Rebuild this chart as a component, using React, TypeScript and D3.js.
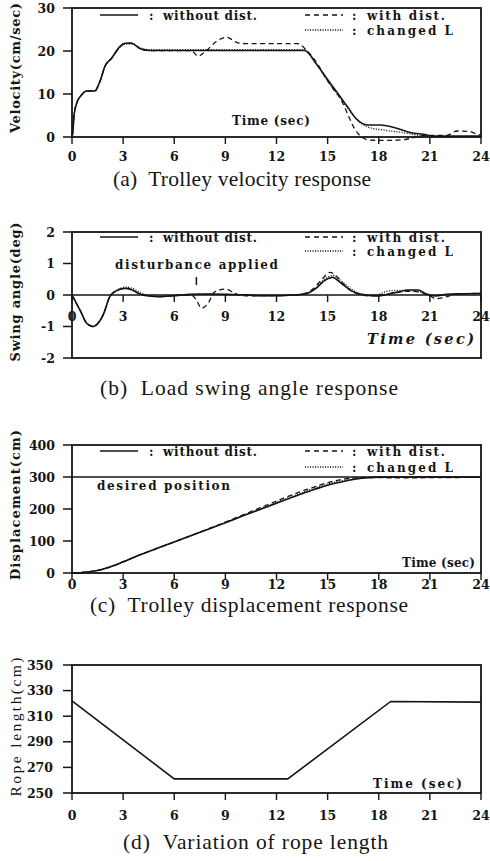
import React from "react";
import * as d3 from "d3";

// ---------- shared ----------
const timeTicks = [0, 3, 6, 9, 12, 15, 18, 21, 24];

// ---------- (a) trolley velocity (cm/sec) ----------
const velTicks = [0, 10, 20, 30];
const velTimeWithout = [0, 0.06, 0.12, 0.27, 0.57, 0.86, 1.35, 1.5, 1.64, 1.93, 2.32, 2.81, 3.1, 3.5, 3.98, 4.56, 6, 8, 10, 12, 13.64, 14.32, 14.9, 15.59, 16.17, 16.67, 17.35, 18.1, 18.9, 19.9, 20.8, 21.1, 24];
const velWithout = [0, 1.6, 5.1, 7.8, 9.8, 10.7, 10.7, 11.6, 12.9, 16.4, 18.3, 21, 21.8, 21.8, 20.6, 20.1, 20.1, 20.1, 20.1, 20.1, 20.1, 17.1, 13.9, 10.2, 7, 4.3, 2.8, 2.8, 2.2, 1.0, 0.5, 0.2, 0.2];
const velTimeWith = [0, 0.06, 0.12, 0.27, 0.57, 0.86, 1.35, 1.5, 1.64, 1.93, 2.32, 2.81, 3.1, 3.5, 3.98, 4.56, 6, 7.0, 7.4, 7.8, 8.47, 9.05, 9.74, 10.3, 12, 13.3, 13.7, 14.3, 14.8, 15.3, 15.8, 16.2, 16.57, 16.96, 17.45, 18.5, 19.5, 20.1, 20.7, 22, 22.6, 23.3, 23.8, 24];
const velWith = [0, 1.6, 5.1, 7.8, 9.8, 10.7, 10.7, 11.6, 12.9, 16.4, 18.3, 21, 21.8, 21.8, 20.6, 20.1, 20.1, 20.1, 18.8, 19.8, 22.2, 23.2, 21.9, 21.7, 21.7, 21.7, 20.4, 17.6, 14.4, 11.3, 8.6, 5.1, 2, 0.1, -0.7, -0.8, -0.6, -0.1, 0.4, 0.4, 1.4, 1.3, 0.6, 0.4];
const velTimeChanged = [0, 0.06, 0.12, 0.27, 0.57, 0.86, 1.35, 1.5, 1.64, 1.93, 2.32, 2.81, 3.15, 3.55, 4.0, 4.6, 6, 8, 10, 12, 13.6, 14.3, 14.9, 15.6, 16.2, 16.7, 17.3, 18.3, 19.1, 19.9, 20.7, 21.5, 24];
const velChanged = [0, 1.6, 5.1, 7.8, 9.8, 10.7, 10.7, 11.6, 12.9, 16.4, 18.3, 20.8, 21.6, 21.6, 20.7, 20.3, 20.3, 20.3, 20.3, 20.3, 20.3, 17.3, 13.6, 9.8, 6.6, 4.1, 2.4, 1.6, 1.2, 0.7, 0.2, 0.1, 0.1];

// ---------- (b) load swing angle (deg) ----------
const swingTicks = [-2, -1, 0, 1, 2];
const swingTimeWithout = [0, 0.47, 0.9, 1.25, 1.55, 1.83, 2.22, 2.6, 3.1, 3.5, 3.98, 4.5, 5.15, 6, 7, 8, 9, 10, 11, 12, 13, 13.8, 14.3, 14.8, 15.3, 15.8, 16.4, 16.9, 17.9, 18.7, 19.2, 19.7, 20.3, 20.8, 21.3, 22, 23, 24];
const swingWithout = [0, -0.48, -0.92, -1.0, -0.88, -0.63, -0.05, 0.13, 0.21, 0.17, 0.03, -0.03, -0.05, -0.02, 0.02, 0.03, 0.02, 0.01, -0.02, -0.02, 0, 0.05, 0.2, 0.45, 0.56, 0.37, 0.13, 0.03, -0.03, 0.05, 0.1, 0.16, 0.16, 0.03, -0.03, 0.02, 0.04, 0.05];
const swingTimeWith = [0, 0.47, 0.9, 1.25, 1.55, 1.83, 2.22, 2.6, 3.1, 3.5, 3.98, 4.5, 5.15, 6, 7, 7.3, 7.6, 7.98, 8.37, 9.05, 9.4, 9.8, 10.5, 11, 12, 13, 13.7, 14.2, 14.7, 15.15, 15.6, 16.2, 16.8, 17.5, 18.5, 19.3, 19.9, 20.5, 21.0, 21.35, 21.8, 22.5, 23, 24];
const swingWith = [0, -0.48, -0.92, -1.0, -0.88, -0.63, -0.05, 0.13, 0.21, 0.17, 0.03, -0.03, -0.05, -0.02, 0, -0.16, -0.42, -0.27, 0.1, 0.19, 0.1, 0, -0.03, -0.02, -0.02, 0, 0.06, 0.22, 0.52, 0.72, 0.55, 0.2, 0.03, -0.03, 0.03, 0.1, 0.12, 0.08, -0.02, -0.12, -0.08, 0.02, 0.04, 0.05];
const swingTimeChanged = [0, 0.47, 0.9, 1.25, 1.55, 1.83, 2.22, 2.6, 3.2, 3.6, 4.1, 4.6, 5.2, 6, 7, 8, 9, 10, 11, 12, 13, 13.8, 14.3, 14.8, 15.35, 15.85, 16.5, 17.0, 17.8, 18.5, 19.2, 19.8, 20.4, 20.9, 21.4, 22, 23, 24];
const swingChanged = [0, -0.48, -0.92, -1.0, -0.88, -0.63, -0.05, 0.15, 0.25, 0.2, 0.05, -0.03, -0.05, -0.02, 0.02, 0.03, 0.02, 0.01, -0.02, -0.02, 0, 0.06, 0.22, 0.5, 0.62, 0.42, 0.15, 0.03, 0.0, 0.12, 0.15, 0.14, 0.1, 0.02, -0.02, 0.02, 0.04, 0.05];

// ---------- (c) trolley displacement (cm) ----------
const dispTicks = [0, 100, 200, 300, 400];
const desiredPosition = 300;
const dispTime = [0, 0.5, 1, 1.5, 2, 2.5, 3, 4, 5, 6, 7, 8, 9, 10, 11, 12, 13, 13.5, 14, 14.5, 15, 15.5, 16, 16.5, 17, 17.5, 18, 19, 24];
const dispWithout = [0, 1, 4, 8, 15, 24, 35, 57, 77, 97, 117, 137, 157, 178, 198, 218, 238, 248, 257, 266, 274, 281, 287, 292, 296, 298, 299.5, 300, 300];
const dispWith = [0, 1, 4, 8, 15, 24, 35, 57, 77, 97, 117, 138, 159, 181, 203, 225, 246, 256, 265, 274, 282, 289, 294, 297, 298.5, 298.5, 298, 297.5, 299];
const dispChanged = [0, 1, 4, 8, 15, 24, 35, 57, 77, 97, 117, 137, 158, 179, 200, 221, 241, 251, 261, 270, 278, 285, 290, 294, 297, 299, 300, 300, 300];

// ---------- (d) rope length (cm) ----------
const ropeTicks = [250, 270, 290, 310, 330, 350];
const ropeTime = [0, 6, 12.66, 18.7, 24];
const ropeLength = [322, 261, 261, 321.5, 321];

// ---------- layout ----------
const X0 = 72;
const X1 = 481;
const BOLD = "'DejaVu Serif', serif";
const CAP = "'Liberation Serif', 'Times New Roman', serif";
const INK = "#151515";

const xScale = d3.scaleLinear().domain([0, 24]).range([X0, X1]);

type Series = { t: number[]; v: number[]; kind: "solid" | "dash" | "dot"; linear?: boolean };

function SeriesPath({ s, y }: { s: Series; y: d3.ScaleLinear<number, number> }) {
  const pts: [number, number][] = s.t.map((t, i) => [t, s.v[i]]);
  const line = d3
    .line<[number, number]>()
    .x((d) => xScale(d[0]))
    .y((d) => y(d[1]))
    .curve(s.linear ? d3.curveLinear : d3.curveMonotoneX);
  const dash = s.kind === "dash" ? "5 3.5" : s.kind === "dot" ? "1.1 1.5" : undefined;
  return (
    <path
      d={line(pts) || ""}
      fill="none"
      stroke={INK}
      strokeWidth={s.kind === "solid" ? 1.6 : 1.3}
      strokeDasharray={dash}
    />
  );
}

function Frame({
  y,
  yTicks,
  axisValue,
  xLabelBaseline,
  yLabelRight,
  yLabelFmt,
}: {
  y: d3.ScaleLinear<number, number>;
  yTicks: number[];
  axisValue: number;
  xLabelBaseline: number;
  yLabelRight: number;
  yLabelFmt?: (v: number) => string;
}) {
  const [d0, d1] = y.domain();
  const top = y(d1);
  const bot = y(d0);
  const ay = y(axisValue);
  return (
    <g>
      <rect x={X0} y={top} width={X1 - X0} height={bot - top} fill="none" stroke={INK} strokeWidth={1.8} />
      {axisValue !== d0 && <line x1={X0} x2={X1} y1={ay} y2={ay} stroke={INK} strokeWidth={1.5} />}
      {yTicks.map((v) => (
        <g key={"y" + v}>
          <line x1={X0 - 9} x2={X0} y1={y(v)} y2={y(v)} stroke={INK} strokeWidth={1.5} />
          <text
            x={yLabelRight}
            y={y(v)}
            dy="0.36em"
            textAnchor="end"
            fontFamily={BOLD}
            fontWeight="bold"
            fontSize={12.5}
            fill={INK}
          >
            {yLabelFmt ? yLabelFmt(v) : String(v)}
          </text>
        </g>
      ))}
      {timeTicks.map((t) => (
        <g key={"x" + t}>
          <line x1={xScale(t)} x2={xScale(t)} y1={ay} y2={ay + 7} stroke={INK} strokeWidth={1.4} />
          <text
            x={xScale(t)}
            y={xLabelBaseline}
            textAnchor="middle"
            fontFamily={BOLD}
            fontWeight="bold"
            fontSize={12.5}
            fill={INK}
          >
            {t}
          </text>
        </g>
      ))}
    </g>
  );
}

function Legend({ lineY, gap }: { lineY: number; gap: number }) {
  const txt = { fontFamily: BOLD, fontWeight: "bold" as const, fontSize: 12, fill: INK };
  return (
    <g>
      <line x1={100} x2={138} y1={lineY} y2={lineY} stroke={INK} strokeWidth={1.6} />
      <text x={149} y={lineY + 4.5} {...txt}>:</text>
      <text x={163} y={lineY + 4.5} textLength={94} lengthAdjust="spacing" {...txt}>without dist.</text>
      <line x1={305} x2={343} y1={lineY} y2={lineY} stroke={INK} strokeWidth={1.4} strokeDasharray="5 4" />
      <text x={352} y={lineY + 4.5} {...txt}>:</text>
      <text x={367} y={lineY + 4.5} textLength={78} lengthAdjust="spacing" {...txt}>with dist.</text>
      <line x1={305} x2={343} y1={lineY + gap} y2={lineY + gap} stroke={INK} strokeWidth={1.3} strokeDasharray="1.1 1.4" />
      <text x={352} y={lineY + gap + 4.5} {...txt}>:</text>
      <text x={367} y={lineY + gap + 4.5} textLength={86} lengthAdjust="spacing" {...txt}>changed L</text>
    </g>
  );
}

function YLabel({ cx, cy, len, text, bold = true }: { cx: number; cy: number; len: number; text: string; bold?: boolean }) {
  return (
    <text
      transform={`translate(${cx},${cy}) rotate(-90)`}
      textAnchor="middle"
      dy="0.36em"
      fontFamily={bold ? BOLD : CAP}
      fontWeight={bold ? "bold" : "normal"}
      fontSize={bold ? 13 : 15.5}
      textLength={len}
      lengthAdjust="spacing"
      fill={INK}
    >
      {text}
    </text>
  );
}

function Caption({ x, y, text, len }: { x: number; y: number; text: string; len?: number }) {
  return (
    <text x={x} y={y} fontFamily={CAP} fontSize={21.5} fill={INK} textLength={len} lengthAdjust={len ? "spacing" : undefined} style={{ whiteSpace: "pre" }}>
      {text}
    </text>
  );
}

export default function App() {
  const yA = d3.scaleLinear().domain([0, 30]).range([137, 8]);
  const yB = d3.scaleLinear().domain([-2, 2]).range([358, 232]);
  const yC = d3.scaleLinear().domain([0, 400]).range([573, 445]);
  const yD = d3.scaleLinear().domain([250, 350]).range([793, 665]);

  const seriesA: Series[] = [
    { t: velTimeWithout, v: velWithout, kind: "solid" },
    { t: velTimeWith, v: velWith, kind: "dash" },
    { t: velTimeChanged, v: velChanged, kind: "dot" },
  ];
  const seriesB: Series[] = [
    { t: swingTimeWithout, v: swingWithout, kind: "solid" },
    { t: swingTimeWith, v: swingWith, kind: "dash" },
    { t: swingTimeChanged, v: swingChanged, kind: "dot" },
  ];
  const seriesC: Series[] = [
    { t: dispTime, v: dispWithout, kind: "solid" },
    { t: dispTime, v: dispWith, kind: "dash" },
    { t: dispTime, v: dispChanged, kind: "dot" },
  ];
  const seriesD: Series[] = [{ t: ropeTime, v: ropeLength, kind: "solid", linear: true }];

  const bold = { fontFamily: BOLD, fontWeight: "bold" as const, fill: INK };

  return (
    <svg
      width={490}
      height={861}
      viewBox="0 0 490 861"
      style={{ position: "absolute", left: 0, top: 0, background: "#fff" }}
    >
      <rect x={0} y={0} width={490} height={861} fill="#fff" />

      {/* (a) */}
      <Frame y={yA} yTicks={velTicks} axisValue={0} xLabelBaseline={161} yLabelRight={55} />
      {seriesA.map((s, i) => <SeriesPath key={i} s={s} y={yA} />)}
      <Legend lineY={15} gap={15} />
      <text x={232} y={125} textLength={78} lengthAdjust="spacing" fontSize={12} {...bold}>Time (sec)</text>
      <YLabel cx={15} cy={68} len={130} text="Velocity(cm/sec)" />
      <Caption x={113} y={186} text="(a)  Trolley velocity response" len={258} />

      {/* (b) */}
      <Frame y={yB} yTicks={swingTicks} axisValue={0} xLabelBaseline={321} yLabelRight={55} yLabelFmt={(v) => (v < 0 ? "-" + Math.abs(v) : String(v))} />
      {seriesB.map((s, i) => <SeriesPath key={i} s={s} y={yB} />)}
      <Legend lineY={237} gap={14} />
      <text x={115} y={269} textLength={163} lengthAdjust="spacing" fontSize={12} {...bold}>disturbance applied</text>
      <line x1={xScale(7.3)} x2={xScale(7.3)} y1={277} y2={285} stroke={INK} strokeWidth={1.5} />
      <text x={367} y={344} textLength={107} lengthAdjust="spacing" fontSize={14.5} fontStyle="italic" {...bold}>Time (sec)</text>
      <YLabel cx={15} cy={292} len={139} text="Swing angle(deg)" />
      <Caption x={100} y={395} text="(b)  Load swing angle response" len={298} />

      {/* (c) */}
      <Frame y={yC} yTicks={dispTicks} axisValue={0} xLabelBaseline={589} yLabelRight={55} />
      <line x1={X0} x2={X1} y1={yC(desiredPosition)} y2={yC(desiredPosition)} stroke={INK} strokeWidth={1.6} />
      {seriesC.map((s, i) => <SeriesPath key={i} s={s} y={yC} />)}
      <Legend lineY={451} gap={16} />
      <text x={97} y={490} textLength={133} lengthAdjust="spacing" fontSize={12} {...bold}>desired position</text>
      <text x={402} y={567} textLength={73} lengthAdjust="spacing" fontSize={12} {...bold}>Time (sec)</text>
      <YLabel cx={15} cy={505} len={150} text="Displacement(cm)" />
      <Caption x={90} y={612} text="(c)  Trolley displacement response" len={318} />

      {/* (d) */}
      <Frame y={yD} yTicks={ropeTicks} axisValue={250} xLabelBaseline={820} yLabelRight={53} />
      {seriesD.map((s, i) => <SeriesPath key={i} s={s} y={yD} />)}
      <text x={373} y={788} textLength={89} lengthAdjust="spacing" fontSize={12} {...bold}>Time (sec)</text>
      <YLabel cx={15} cy={727} len={139} text="Rope length(cm)" bold={false} />
      <Caption x={123} y={849} text="(d)  Variation of rope length" len={265} />
    </svg>
  );
}
